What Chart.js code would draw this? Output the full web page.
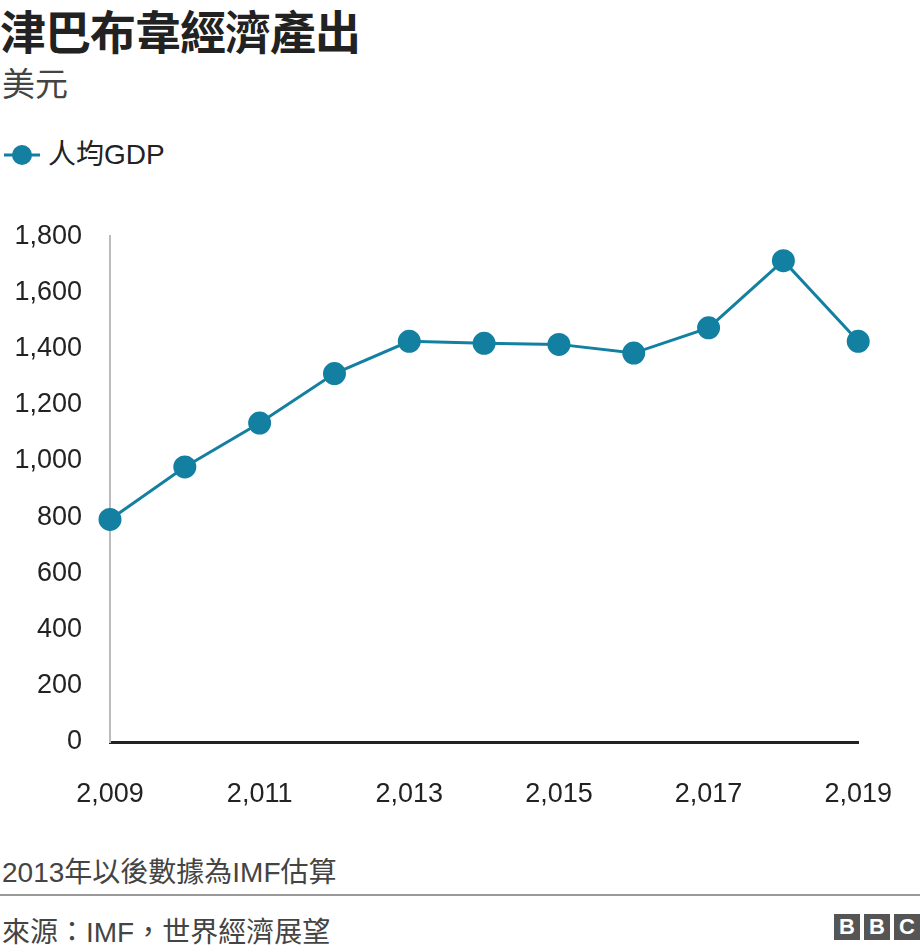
<!DOCTYPE html>
<html>
<head>
<meta charset="utf-8">
<script src="https://cdn.jsdelivr.net/npm/chart.js@4"></script>
<style>
  body { margin: 0; width: 920px; height: 952px; background: #fff; position: relative; overflow: hidden;
         font-family: "Liberation Sans", "Noto Sans CJK TC", sans-serif; color: #222; }
  .abs { position: absolute; white-space: nowrap; }
  #title { left: 0px; top: 4px; font-size: 46px; font-weight: bold; font-family: "Noto Sans CJK TC", sans-serif; line-height: 50px; letter-spacing: -1px; }
  #sub { left: 2px; top: 62px; font-size: 33px; color: #444; font-family: "Noto Sans CJK TC", sans-serif; line-height: 40px; }
  #legend { left: 4px; top: 137px; font-size: 28px; line-height: 36px; font-family: "Liberation Sans", "Noto Sans CJK TC", sans-serif; }
  #legend span.mark { display: inline-block; position: relative; width: 36px; height: 36px; vertical-align: top; margin-right: 8px; }
  #note { left: 2px; top: 850px; font-size: 28px; color: #444; font-family: "Liberation Sans", "Noto Sans CJK TC", sans-serif; }
  #rule { left: 0; top: 894px; width: 920px; height: 2px; background: #999; }
  #source { left: 2px; top: 910px; font-size: 28px; color: #444; font-family: "Liberation Sans", "Noto Sans CJK TC", sans-serif; }
  #bbc { right: 0px; top: 914px; }
  #bbc div { display: inline-block; width: 26px; height: 26px; background: #555; color: #fff; font-weight: bold;
             font-size: 22px; line-height: 26px; text-align: center; margin-left: 4px; font-family: "Liberation Sans"; }
  #wrap { position: absolute; left: 0; top: 200px; width: 920px; height: 610px; }
</style>
</head>
<body>
<div id="title" class="abs">津巴布韋經濟產出</div>
<div id="sub" class="abs">美元</div>
<div id="legend" class="abs"><span class="mark"><svg width="36" height="36"><line x1="0" y1="18" x2="36" y2="18" stroke="#1380A1" stroke-width="3"/><circle cx="18" cy="18" r="10" fill="#1380A1"/></svg></span>人均GDP</div>
<div id="wrap"><canvas id="chart"></canvas></div>
<div id="note" class="abs">2013年以後數據為IMF估算</div>
<div id="rule" class="abs"></div>
<div id="source" class="abs">來源：IMF，世界經濟展望</div>
<div id="bbc" class="abs"><div>B</div><div>B</div><div>C</div></div>
<script>
const years = [2009, 2010, 2011, 2012, 2013, 2014, 2015, 2016, 2017, 2018, 2019];
const gdpPerCapita = [792, 979, 1135, 1311, 1426, 1419, 1415, 1384, 1474, 1713, 1426];
const yTicks = [0, 200, 400, 600, 800, 1000, 1200, 1400, 1600, 1800];

var ctx = document.getElementById('chart').getContext('2d');
var chart = new Chart(ctx, {
  type: 'line',
  data: {
    datasets: [{
      label: '人均GDP',
      data: years.map(function(y, i) { return { x: y, y: gdpPerCapita[i] }; }),
      borderColor: '#1380A1',
      backgroundColor: '#1380A1',
      borderWidth: 3,
      pointRadius: 10,
      pointHoverRadius: 10,
      tension: 0,
      clip: false
    }]
  },
  options: {
    responsive: true,
    maintainAspectRatio: false,
    animation: false,
    layout: { padding: { top: 12, right: 21, left: 0, bottom: 0 } },
    plugins: { legend: { display: false }, tooltip: { enabled: false } },
    scales: {
      x: {
        type: 'linear',
        min: 2009, max: 2019,
        grid: { display: false },
        border: { color: '#222', width: 3 },
        ticks: {
          stepSize: 2,
          color: '#222',
          padding: 28,
          font: { size: 27, family: 'Liberation Sans' },
          callback: function(v) { return v.toLocaleString('en-US'); }
        },
        afterFit: function(s) { s.height = 68; }
      },
      y: {
        min: 0, max: 1800,
        grid: { display: false },
        border: { color: '#bbb', width: 2 },
        afterBuildTicks: function(s) { s.ticks = yTicks.map(function(v) { return { value: v }; }); },
        ticks: {
          color: '#222',
          padding: 20,
          font: { size: 27, family: 'Liberation Sans' },
          callback: function(v) { return v.toLocaleString('en-US'); }
        },
        afterFit: function(s) { s.width = 110; }
      }
    }
  }
});
</script>
</body>
</html>
